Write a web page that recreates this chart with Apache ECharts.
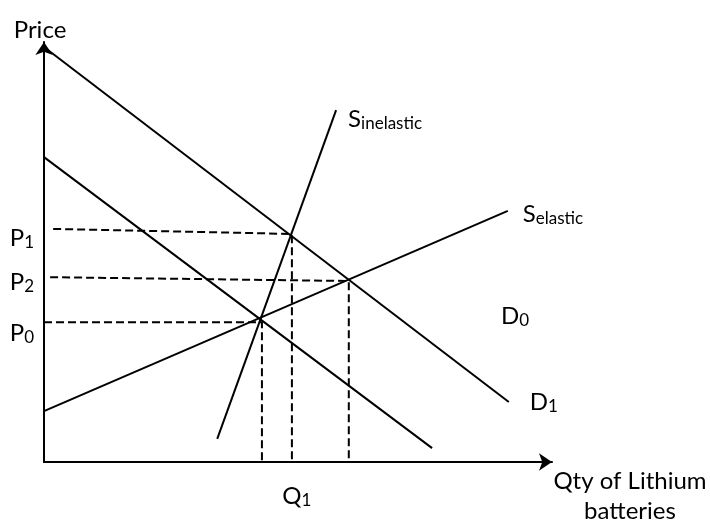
<!DOCTYPE html>
<html>
<head>
<meta charset="utf-8">
<script src="https://cdn.jsdelivr.net/npm/echarts@6/dist/echarts.min.js"></script>
<style>
  html, body { margin: 0; padding: 0; background: #fff; }
  #chart { width: 710px; height: 531px; }
</style>
</head>
<body>
<div id="chart"></div>
<script>
// curves, as [qty, price] end points (arbitrary 0-100 units)
const demand1 = [[0, 98.8], [91.5, 14.3]];
const demand0 = [[0, 72.6], [76.4, 3.3]];
const supplyInelastic = [[34.1, 5.5], [57.5, 83.8]];
const supplyElastic = [[0, 12.1], [91.3, 59.8]];

// dashed guides: price level across, then down to the quantity
const guideP1 = [[1.8, 55.5], [48.8, 54.3], [48.8, 0]];
const guideP2 = [[1.2, 44.0], [60.0, 43.1], [60.0, 0]];
const guideP0 = [[0, 33.3], [42.9, 33.3], [42.9, 0]];

// tick labels
const priceTicks = [53.3, 42.9, 30.7];
const priceNames = ['1', '2', '0'];
const qtyTicks = [48.8];
const qtyNames = ['1'];

const FONT = 'Lato';
const rich = {
  m: { fontSize: 24, fontFamily: FONT, color: '#000' },
  s: { fontSize: 17, fontFamily: FONT, color: '#000', padding: [9, 0, 0, 0] }
};

const chart = echarts.init(document.getElementById('chart'));

function curve(name, data, label, offset) {
  return {
    name: name,
    type: 'line',
    data: data,
    symbol: 'none',
    lineStyle: { color: '#000', width: 2 },
    endLabel: {
      show: true,
      formatter: label,
      offset: offset,
      rich: rich
    }
  };
}

function guide(data) {
  return {
    type: 'line',
    data: data,
    symbol: 'none',
    lineStyle: { color: '#000', width: 2, type: [8, 4] }
  };
}

chart.setOption({
  animation: false,
  grid: { left: 44, right: 158, top: 42, bottom: 69, outerBoundsMode: 'none' },
  xAxis: {
    type: 'value',
    min: 0,
    max: 100,
    name: 'Qty of Lithium\nbatteries',
    nameLocation: 'end',
    nameGap: 78,
    nameTextStyle: {
      fontSize: 24, fontFamily: FONT, color: '#000',
      align: 'center', verticalAlign: 'top', lineHeight: 30, padding: [4, 0, 0, 0]
    },
    axisLine: {
      show: true, onZero: false,
      symbol: ['none', 'arrow'], symbolSize: [13, 13],
      lineStyle: { color: '#000', width: 2 }
    },
    axisTick: { show: false },
    splitLine: { show: false },
    axisLabel: {
      customValues: qtyTicks,
      margin: 21,
      padding: [0, 0, 0, 10],
      formatter: function (v) {
        return '{m|Q}{s|' + qtyNames[qtyTicks.indexOf(v)] + '}';
      },
      rich: rich
    }
  },
  yAxis: {
    type: 'value',
    min: 0,
    max: 100,
    name: 'Price',
    nameLocation: 'end',
    nameGap: 0,
    nameTextStyle: {
      fontSize: 24, fontFamily: FONT, color: '#000',
      align: 'center', padding: [0, 8, 0, 0]
    },
    axisLine: {
      show: true, onZero: false,
      symbol: ['none', 'arrow'], symbolSize: [13, 13],
      lineStyle: { color: '#000', width: 2 }
    },
    axisTick: { show: false },
    splitLine: { show: false },
    axisLabel: {
      customValues: priceTicks,
      margin: 10,
      formatter: function (v) {
        return '{m|P}{s|' + priceNames[priceTicks.indexOf(v)] + '}';
      },
      rich: rich
    }
  },
  series: [
    guide(guideP1),
    guide(guideP2),
    guide(guideP0),
    curve('D1', demand1, '{m|D}{s|1}', [13, 0]),
    curve('D0', demand0, '{m|D}{s|0}', [61, -132]),
    curve('S inelastic', supplyInelastic, '{m|S}{s|inelastic}', [4, 9]),
    curve('S elastic', supplyElastic, '{m|S}{s|elastic}', [7, 3])
  ]
});
</script>
</body>
</html>
